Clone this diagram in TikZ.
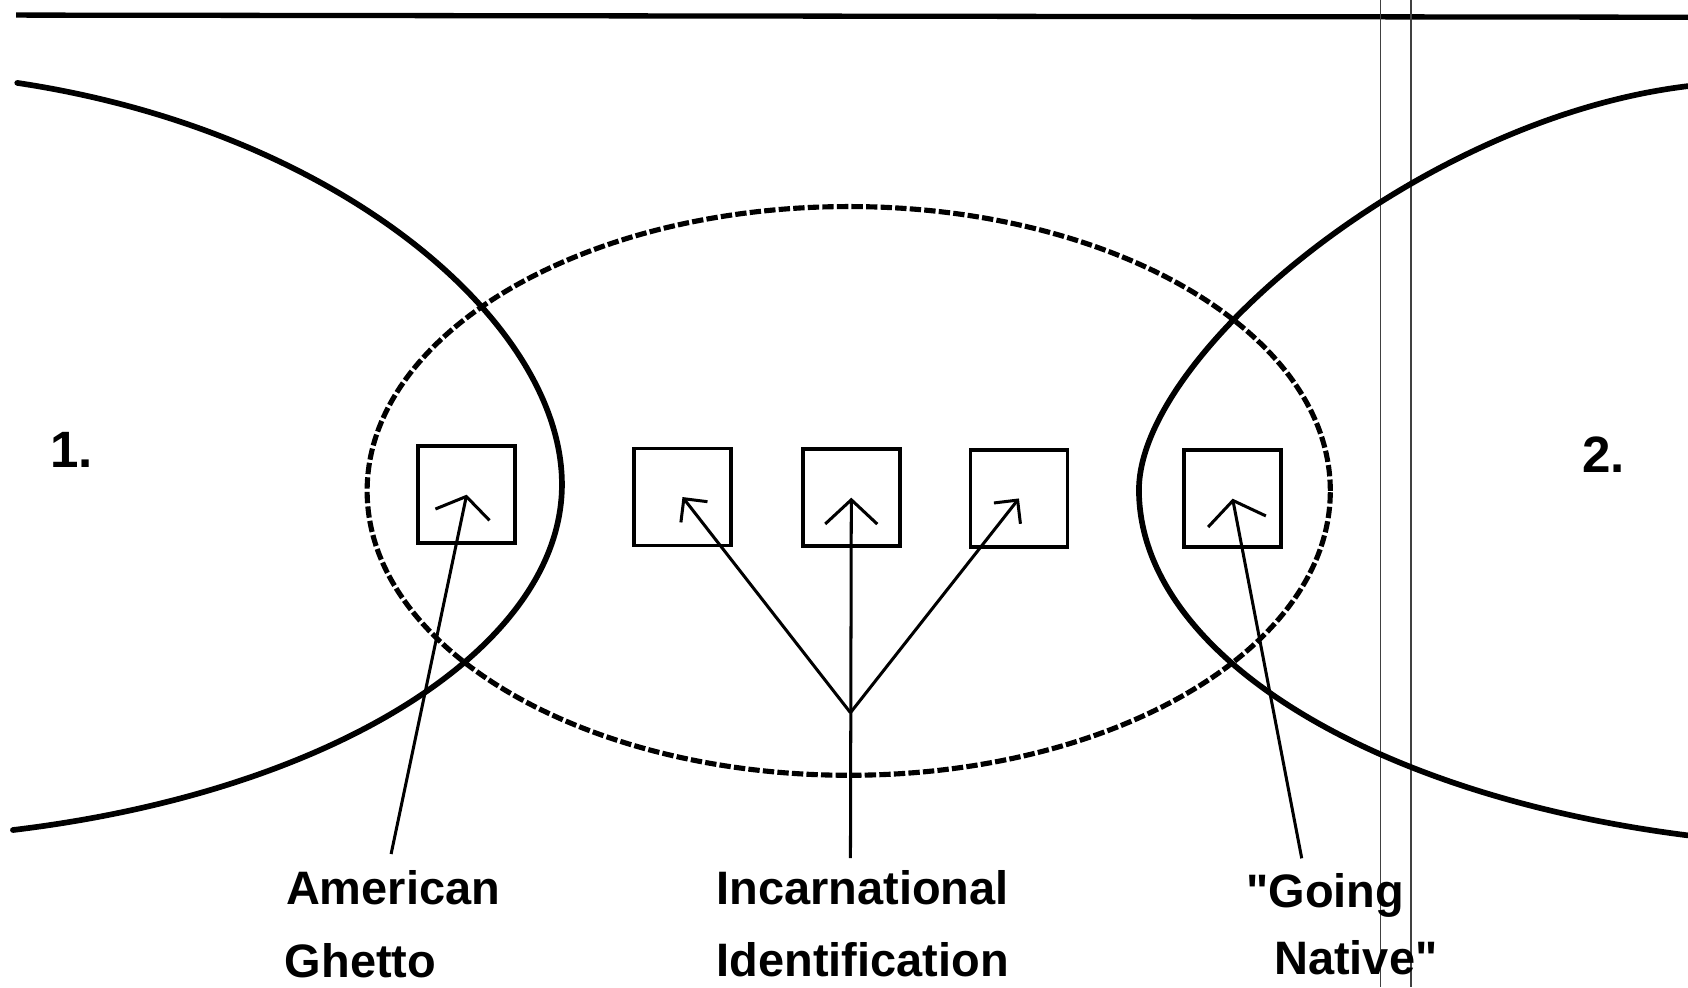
\documentclass[tikz,border=0pt]{standalone}
\usepackage{fontspec}
\newfontfamily\labfont{Liberation Sans}
\usetikzlibrary{arrows.meta}
\begin{document}
\begin{tikzpicture}[x=0.01cm, y=-0.01cm,
  curve/.style={line width=1.5pt, line cap=round, line join=round},
  ring/.style={line width=1.35pt, dash pattern=on 3pt off 0.85pt},
  box/.style={draw, line width=0.95pt, minimum width=0.9cm, minimum height=0.9cm, inner sep=0pt},
  lead/.style={line width=0.8pt},
  tipwide/.style={-{Straight Barb[angle=112:8.8pt]}},
  tipmid/.style={-{Straight Barb[angle=94:9.4pt]}},
  tipsmall/.style={-{Straight Barb[angle=90:6.3pt]}},
  tipgo/.style={-{Straight Barb[angle=108:9.6pt]}},
  lbl/.style={font=\labfont\fontsize{12.4pt}{14pt}\selectfont\bfseries, anchor=base west, inner sep=0pt},
  num/.style={font=\labfont\fontsize{13.5pt}{15pt}\selectfont\bfseries, anchor=base west, inner sep=0pt},
  scan/.style={line width=0.35pt, black!75},
  rule/.style={line width=1.4pt}
]
\useasboundingbox (0,0) rectangle (1568,917);

% top rule
\coordinate (r0) at (15,14);
\coordinate (r1) at (1568,16);
\draw[rule] (r0) -- (r1);

% scanner edge lines
\coordinate (s0) at (1282.4,0);
\coordinate (s1) at (1282.4,917);
\coordinate (t0) at (1310.3,0);
\coordinate (t1) at (1310.3,917);
\draw[scan] (s0) -- (s1);
\draw[scan, line width=0.5pt] (t0) -- (t1);

% left solid region
\coordinate (L0) at (16,77);
\coordinate (L1) at (522,450);
\coordinate (L2) at (12,771);
\draw[curve] (L0) .. controls (316,122) and (522,300) .. (L1)
                  .. controls (522,600) and (312,735) .. (L2);

% right solid region
\coordinate (R0) at (1568,80);
\coordinate (R1) at (1058,455);
\coordinate (R2) at (1568,776);
\draw[curve] (R0) .. controls (1318,110) and (1058,330) .. (R1)
                  .. controls (1058,605) and (1268,738) .. (R2);

% dashed middle region
\coordinate (E) at (788.4,456);
\draw[ring] (E) ellipse [x radius=4.471cm, y radius=2.64cm];

% boxes
\node[box] (b1) at (433.5,459.5) {};
\node[box] (b2) at (634,461.7) {};
\node[box] (b3) at (790.8,462.3) {};
\node[box] (b4) at (946.5,463) {};
\node[box] (b5) at (1145,463.2) {};

% numbers
\node[num] (n1) at (46,434) {1.};
\node[num] (n2) at (1469,439) {2.};

% labels
\node[lbl] (ag1) at (265,840) {American};
\node[lbl] (ag2) at (264,908) {Ghetto};
\node[lbl] (ii1) at (665,840) {Incarnational};
\node[lbl] (ii2) at (665,907) {Identification};
\node[lbl] (gn1) at (1157,843) {"Going};
\node[lbl] (gn2) at (1183,905) {Native"};

% connectors
\coordinate (c1) at (363.3,793.3);
\coordinate (c3) at (790,797);
\coordinate (c5) at (1209.2,797.3);
\coordinate (fork) at (790,662);
\draw[lead, tipwide] (c1) -- (b1.center);
\draw[lead, tipmid] (c3) -- (b3.center);
\draw[lead, tipsmall] (fork) -- (b2.center);
\draw[lead, tipsmall] (fork) -- (b4.center);
\draw[lead, tipgo] (c5) -- (b5.center);
\end{tikzpicture}
\end{document}
